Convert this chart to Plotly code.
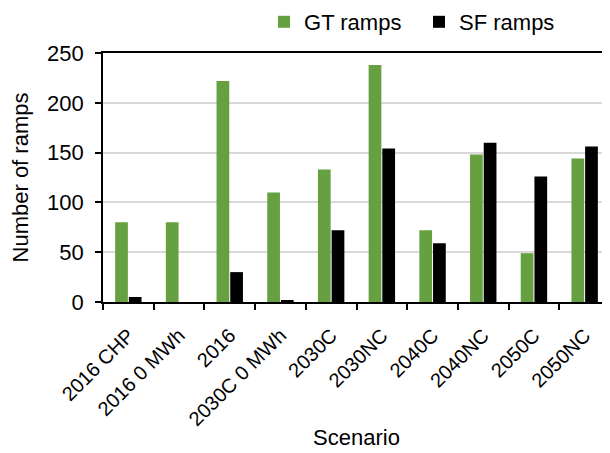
import plotly.graph_objects as go

scenarios = ["2016 CHP", "2016 0 MWh", "2016", "2030C 0 MWh", "2030C",
             "2030NC", "2040C", "2040NC", "2050C", "2050NC"]
gt_ramps = [80, 80, 222, 110, 133, 238, 72, 148, 49, 144]
sf_ramps = [5, 0, 30, 2, 72, 154, 59, 160, 126, 156]

fig = go.Figure()
fig.add_trace(go.Bar(x=scenarios, y=gt_ramps, name="GT ramps",
                     marker=dict(color="#67A041", line=dict(width=0))))
fig.add_trace(go.Bar(x=scenarios, y=sf_ramps, name="SF ramps",
                     marker=dict(color="#000000", line=dict(width=0))))

# page body has an 8px margin, so the figure is sized to fill the rest of the window
font_family = "Liberation Sans, Arial, sans-serif"
fig.update_layout(
    width=602, height=445,
    margin=dict(l=95, r=0, t=45, b=151, autoexpand=False),
    paper_bgcolor="white", plot_bgcolor="white",
    barmode="group", bargap=0.46, bargroupgap=0.07,
    font=dict(family=font_family, size=22, color="#000000"),
    legend=dict(orientation="h", x=0.3176, xanchor="left",
                y=1 - 14 / 445, yanchor="middle", yref="container",
                font=dict(size=22), itemwidth=30, tracegroupgap=0,
                entrywidth=110, entrywidthmode="pixels"),
    showlegend=True,
)
fig.update_xaxes(
    type="category", tickangle=-45, tickson="boundaries",
    ticks="outside", ticklen=6, tickcolor="#000", tickwidth=1.5,
    showline=True, linecolor="#000", linewidth=1.8, mirror=True,
    showgrid=False, ticklabelstandoff=12,
    tickfont=dict(size=20),
    title=dict(text="Scenario", font=dict(size=22), standoff=0),
)
fig.update_yaxes(
    range=[0, 250], tickvals=[0, 50, 100, 150, 200, 250],
    ticks="outside", ticklen=6, tickcolor="#000", tickwidth=1.5,
    showline=True, linecolor="#000", linewidth=1.8,
    showgrid=True, gridcolor="#D9D9D9", gridwidth=1.5,
    zeroline=False, ticklabelstandoff=7,
    tickfont=dict(size=22),
    title=dict(text="Number of ramps", font=dict(size=22), standoff=13),
)
fig.write_html("out.html")
